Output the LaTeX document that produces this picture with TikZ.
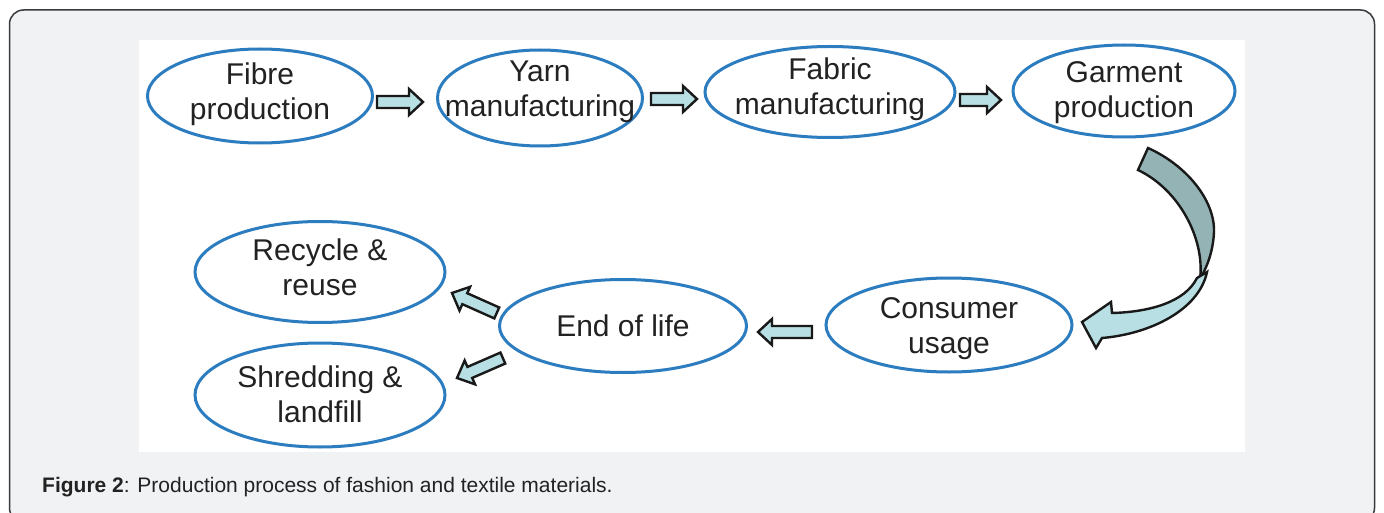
\documentclass[tikz,border=0pt]{standalone}
\usepackage{fontspec}
\setmainfont{Liberation Sans}
\usetikzlibrary{shapes.geometric}

\definecolor{framefill}{HTML}{F1F2F4}
\definecolor{frameline}{HTML}{3A3A3A}
\definecolor{ringblue}{HTML}{2C7CC0}
\definecolor{arrowfill}{HTML}{B8DFE3}
\definecolor{arrowdark}{HTML}{93B3B5}
\definecolor{labelink}{HTML}{222222}

\tikzset{
  stage/.style={ellipse, draw=ringblue, line width=3pt, fill=white, inner sep=0pt},
  stagetext/.style={align=center, text=labelink, inner sep=0pt,
                    font=\fontsize{30}{35}\selectfont},
  blockarrow/.style={draw=black!90, line width=2.4pt, fill=arrowfill, line join=miter},
}

% straight block arrow: tip point, direction (degrees), total length
\newcommand{\blockarrow}[3]{%
  \begin{scope}[shift={#1}, rotate=#2]
    \draw[blockarrow] (0,0) -- (-14,13) -- (-14,6) -- (-#3,6)
      -- (-#3,-6) -- (-14,-6) -- (-14,-13) -- cycle;
  \end{scope}}

\begin{document}
\begin{tikzpicture}[x=1pt, y=-1pt]
  \useasboundingbox (0,0) rectangle (1384,513);

  % page frame and white figure area
  \begin{scope}
    \clip (0,0) rectangle (1384,513);
    \draw[frameline, fill=framefill, line width=1.5pt, rounded corners=14pt]
      (9.5,10) rectangle (1374.5,522);
  \end{scope}
  \fill[white] (139,40) rectangle (1245,452);

  % production chain
  \node[stage, minimum width=225pt, minimum height=94pt] (fibre)   at (260,96)  {};
  \node[stage, minimum width=205pt, minimum height=96pt] (yarn)    at (540,98)  {};
  \node[stage, minimum width=250pt, minimum height=91pt] (fabric)  at (830,92)  {};
  \node[stage, minimum width=222pt, minimum height=92pt] (garment) at (1124,91) {};
  \node[stage, minimum width=246pt, minimum height=94pt] (consumer) at (949,325) {};
  \node[stage, minimum width=247pt, minimum height=93pt] (endlife) at (623,326) {};
  \node[stage, minimum width=250pt, minimum height=101pt] (recycle) at (320,272) {};
  \node[stage, minimum width=250pt, minimum height=104pt] (shred)   at (320,395) {};

  \node[stagetext] (fibre-t)    at ([yshift=2pt]fibre.center)     {Fibre\\production};
  \node[stagetext] (yarn-t)     at ([yshift=6pt]yarn.center)      {Yarn\\manufacturing};
  \node[stagetext] (fabric-t)   at ([yshift=3pt]fabric.center)    {Fabric\\manufacturing};
  \node[stagetext] (garment-t)  at ([yshift=-2pt]garment.center)  {Garment\\production};
  \node[stagetext] (consumer-t) at ([yshift=-4pt]consumer.center) {Consumer\\usage};
  \node[stagetext] (endlife-t)  at (endlife.center)  {End of life};
  \node[stagetext] (recycle-t)  at ([yshift=5pt]recycle.center)   {Recycle \&\\reuse};
  \node[stagetext] (shred-t)    at ([yshift=1pt]shred.center)     {Shredding \&\\landfill};

  % block arrows between stages
  \blockarrow{(423,102)}{0}{46}
  \blockarrow{(697,99)}{0}{46}
  \blockarrow{(1001,100)}{0}{41}
  \blockarrow{(758,332)}{180}{54}
  \blockarrow{(452,293)}{156}{49}
  \blockarrow{(457,378)}{203.5}{50}

  % curved arrow from garment production down to consumer usage
  \draw[blockarrow, fill=arrowdark]
    (1148,148) .. controls (1186,165) and (1215,200) .. (1214,232)
    .. controls (1213,252) and (1207,267) .. (1200,279)
    .. controls (1205,240) and (1180,190) .. (1138,170) -- cycle;
  \draw[blockarrow]
    (1207,272) .. controls (1199,310) and (1150,334) .. (1102,338)
    -- (1096,348) -- (1082,322) -- (1111,302) -- (1112,313)
    .. controls (1150,312) and (1185,302) .. (1197,278) -- cycle;

  % caption
  \node[anchor=base west, inner sep=0pt, text=labelink, font=\fontsize{21}{25}\selectfont]
    (caption) at (42,492) {\textbf{Figure 2}: Production process of fashion and textile materials.};
\end{tikzpicture}
\end{document}
